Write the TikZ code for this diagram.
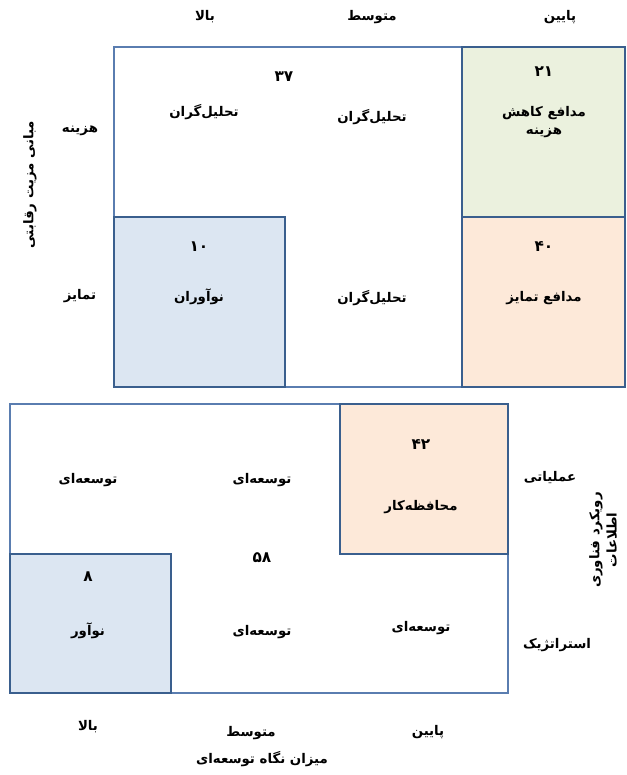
\documentclass[tikz,border=0pt]{standalone}
\usepackage{fontspec}
\usepackage{xcolor}
\usepackage{tikz}
\usetikzlibrary{positioning}
\TeXXeTstate=1
\newfontfamily\farsifont[Script=Arabic]{DejaVu Sans}
\newcommand{\fatxt}[1]{\beginR #1\endR}
\definecolor{outerline}{HTML}{5A7DB0}
\definecolor{boxline}{HTML}{3A5F8E}
\definecolor{bluefill}{HTML}{DCE6F2}
\definecolor{greenfill}{HTML}{EBF1DE}
\definecolor{peachfill}{HTML}{FDE9D9}
\tikzstyle{frame} = [draw=outerline, line width=1.5pt]
\tikzstyle{cell} = [draw=boxline, line width=1.8pt]

\begin{document}
\begin{tikzpicture}[
    x=0.75pt, y=-0.75pt,
    % text styles for the two grids
    txt/.style = {font=\farsifont\bfseries\fontsize{10}{13}\selectfont, align=center, inner sep=1pt},
    num/.style = {txt, font=\farsifont\bfseries\fontsize{11.5}{13}\selectfont}
]
    \useasboundingbox (0,0) rectangle (626,775);

    % 1. Upper grid: coloured cells first, then frames
    \fill[greenfill] (462,47) rectangle (625,217);
    \fill[peachfill] (462,217) rectangle (625,387);
    \fill[bluefill]  (114,217) rectangle (285,387);
    \draw[frame] (114,47) rectangle (625,387);
    \draw[cell] (462,47) rectangle (625,217);
    \draw[cell] (462,217) rectangle (625,387);
    \draw[cell] (114,217) rectangle (285,387);

    % 2. Upper grid headings
    \node (topHigh) [txt] at (205,17) {\fatxt{بالا}};
    \node (topMid)  [txt] at (372,17) {\fatxt{متوسط}};
    \node (topLow)  [txt] at (560,17) {\fatxt{پایین}};
    \node (rowCost) [txt] at (80,131) {\fatxt{هزینه}};
    \node (rowDiff) [txt] at (80,296) {\fatxt{تمایز}};
    \node (axisAdv) [txt, rotate=90] at (30,185) {\fatxt{مبانی مزیت رقابتی}};

    % 3. Upper grid cells
    \node (n37)     [num] at (284,77)  {\fatxt{۳۷}};
    \node (anaA)    [txt] at (204,112) {\fatxt{تحلیل‌گران}};
    \node (anaB)    [txt] at (372,117) {\fatxt{تحلیل‌گران}};
    \node (n21)     [num] at (544,72)  {\fatxt{۲۱}};
    \node (defCost) [txt] at (544,122) {\fatxt{مدافع کاهش}\\\fatxt{هزینه}};
    \node (n10)     [num] at (199,247) {\fatxt{۱۰}};
    \node (innovs)  [txt] at (199,297) {\fatxt{نوآوران}};
    \node (anaC)    [txt] at (372,298) {\fatxt{تحلیل‌گران}};
    \node (n40)     [num] at (544,247) {\fatxt{۴۰}};
    \node (defDiff) [txt] at (544,298) {\fatxt{مدافع تمایز}};

    % 4. Lower grid
    \fill[peachfill] (340,404) rectangle (508,554);
    \fill[bluefill]  (10,554) rectangle (171,693);
    \draw[frame] (10,404) rectangle (508,693);
    \draw[cell] (340,404) rectangle (508,554);
    \draw[cell] (10,554) rectangle (171,693);

    % 5. Lower grid cells
    \node (devA)  [txt] at (88,480)  {\fatxt{توسعه‌ای}};
    \node (devB)  [txt] at (262,480) {\fatxt{توسعه‌ای}};
    \node (n42)   [num] at (421,445) {\fatxt{۴۲}};
    \node (cons)  [txt] at (421,507) {\fatxt{محافظه‌کار}};
    \node (n58)   [num] at (262,558) {\fatxt{۵۸}};
    \node (devC)  [txt] at (262,632) {\fatxt{توسعه‌ای}};
    \node (devD)  [txt] at (421,628) {\fatxt{توسعه‌ای}};
    \node (n8)    [num] at (88,577)  {\fatxt{۸}};
    \node (innov) [txt] at (88,631)  {\fatxt{نوآور}};

    % 6. Lower grid headings
    \node (rowOper)  [txt] at (550,478) {\fatxt{عملیاتی}};
    \node (rowStrat) [txt] at (557,645) {\fatxt{استراتژیک}};
    \node (axisIT)   [txt, rotate=90] at (603,540) {\fatxt{رویکرد فناوری}\\\fatxt{اطلاعات}};
    \node (botHigh)  [txt] at (88,727)  {\fatxt{بالا}};
    \node (botMid)   [txt] at (251,733) {\fatxt{متوسط}};
    \node (botLow)   [txt] at (428,732) {\fatxt{پایین}};
    \node (axisDev)  [txt] at (262,759) {\fatxt{میزان نگاه توسعه‌ای}};

\end{tikzpicture}
\end{document}
